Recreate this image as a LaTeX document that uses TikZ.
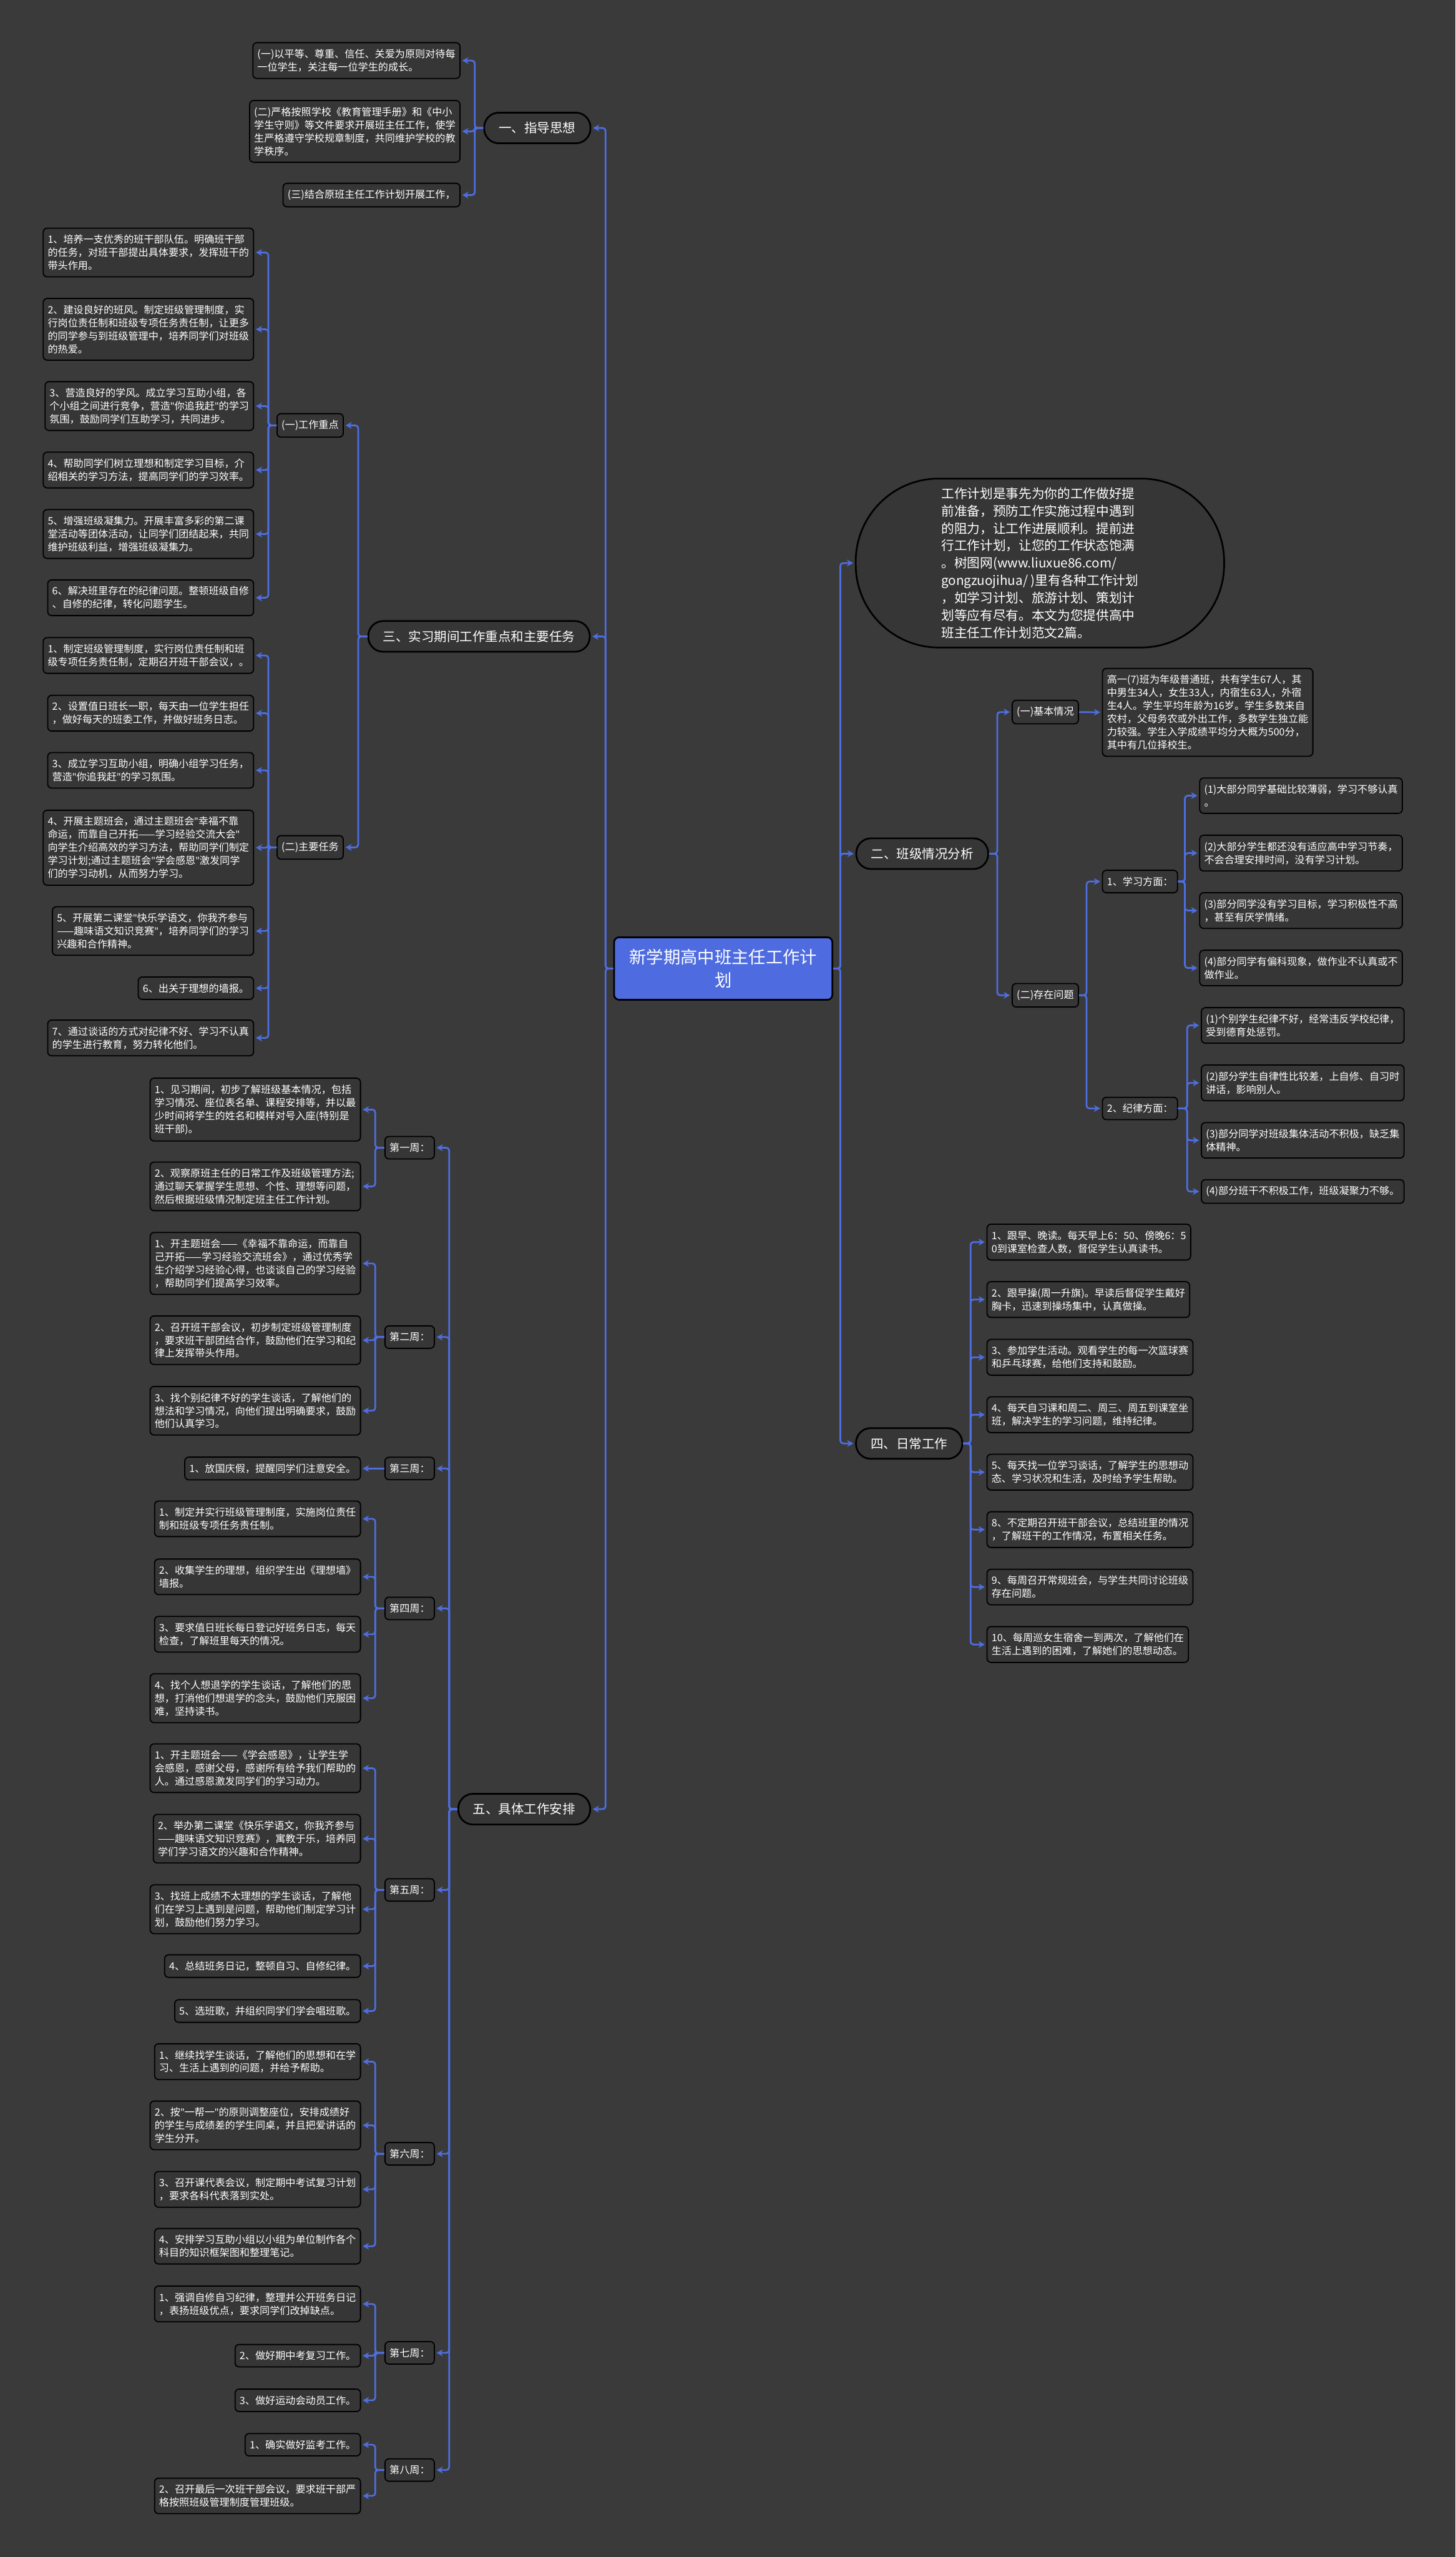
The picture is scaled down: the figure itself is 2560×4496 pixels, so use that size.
\documentclass[tikz,border=0pt]{standalone}
\usepackage{fontspec}
\setmainfont{Noto Sans CJK SC}
\newfontfamily\latinf{Noto Sans}
\newcommand{\myq}{{\latinf"}}
\usetikzlibrary{arrows.meta}
\definecolor{bgc}{RGB}{58,58,58}
\definecolor{boxc}{RGB}{54,54,54}
\definecolor{linkc}{RGB}{78,110,224}
\definecolor{rootc}{RGB}{78,108,224}
\newcommand{\leaffont}{\fontsize{17.7}{23}\selectfont}
\newcommand{\secfont}{\fontsize{22.5}{28}\selectfont}
\newcommand{\rootfont}{\fontsize{30}{40}\selectfont}
\newcommand{\introfont}{\fontsize{22.7}{30.6}\selectfont}
\tikzset{
  conn/.style={draw=linkc, line width=3pt, rounded corners=5pt, -{Stealth[length=11pt,width=12pt]}, shorten >=3pt},
  leaf/.style={draw=black, line width=2pt, fill=boxc, rounded corners=7pt, text=white, font=\leaffont, align=left, inner xsep=8pt, inner ysep=11.5pt},
  sec/.style={draw=black, line width=3pt, fill=boxc, rounded corners=26pt, text=white, font=\secfont, minimum height=54pt, inner xsep=26pt},
  rootbox/.style={draw=black, line width=3pt, fill=rootc, rounded corners=9pt, text=white, font=\rootfont, align=center, minimum width=384pt, minimum height=110pt},
  intro/.style={draw=black, line width=3pt, fill=boxc, rounded corners=146pt, text=white, font=\introfont, align=left, minimum width=648pt, minimum height=297pt},
}
\begin{document}
\begin{tikzpicture}[x=1pt,y=-1pt]
\fill[bgc] (0,0) rectangle (2560,4496);
\useasboundingbox (0,0) rectangle (2560,4496);

% root
\node[rootbox] (root) at (1272,1703) {新学期高中班主任工作计\\划};
\coordinate (tl) at (1065,1703);
\coordinate (tr) at (1478,1703);

% ===== section 1
\node[sec] (s1) at (945,225) {一、指导思想};
\coordinate (b1) at (835,225);
\node[leaf,anchor=east] (a1) at (810,106.5) {(一)以平等、尊重、信任、关爱为原则对待每\\一位学生，关注每一位学生的成长。};
\node[leaf,anchor=east] (a2) at (810,231) {(二)严格按照学校《教育管理手册》和《中小\\学生守则》等文件要求开展班主任工作，使学\\生严格遵守学校规章制度，共同维护学校的教\\学秩序。};
\node[leaf,anchor=east] (a3) at (810,343) {(三)结合原班主任工作计划开展工作，};

% ===== section 3
\node[sec] (s3) at (842.5,1119) {三、实习期间工作重点和主要任务};
\coordinate (b3) at (630,1119);
\node[leaf] (m31) at (545.5,748) {(一)工作重点};
\node[leaf] (m32) at (545.5,1490) {(二)主要任务};
\coordinate (b3l) at (472,748);
\node[leaf,anchor=east] (b31) at (447,444) {1、培养一支优秀的班干部队伍。明确班干部\\的任务，对班干部提出具体要求，发挥班干的\\带头作用。};
\node[leaf,anchor=east] (b32) at (447,579) {2、建设良好的班风。制定班级管理制度，实\\行岗位责任制和班级专项任务责任制，让更多\\的同学参与到班级管理中，培养同学们对班级\\的热爱。};
\node[leaf,anchor=east] (b33) at (447,714) {3、营造良好的学风。成立学习互助小组，各\\个小组之间进行竞争，营造\myq 你追我赶\myq 的学习\\氛围，鼓励同学们互助学习，共同进步。};
\node[leaf,anchor=east] (b34) at (447,826.5) {4、帮助同学们树立理想和制定学习目标，介\\绍相关的学习方法，提高同学们的学习效率。};
\node[leaf,anchor=east] (b35) at (447,939) {5、增强班级凝集力。开展丰富多彩的第二课\\堂活动等团体活动，让同学们团结起来，共同\\维护班级利益，增强班级凝集力。};
\node[leaf,anchor=east] (b36) at (447,1051) {6、解决班里存在的纪律问题。整顿班级自修\\、自修的纪律，转化问题学生。};
\node[leaf,anchor=east] (c31) at (447,1152.5) {1、制定班级管理制度，实行岗位责任制和班\\级专项任务责任制，定期召开班干部会议，。};
\node[leaf,anchor=east] (c32) at (447,1254) {2、设置值日班长一职，每天由一位学生担任\\，做好每天的班委工作，并做好班务日志。};
\node[leaf,anchor=east] (c33) at (447,1354.5) {3、成立学习互助小组，明确小组学习任务，\\营造\myq 你追我赶\myq 的学习氛围。};
\node[leaf,anchor=east] (c34) at (447,1490.5) {4、开展主题班会，通过主题班会\myq 幸福不靠\\命运，而靠自己开拓——学习经验交流大会\myq\\向学生介绍高效的学习方法，帮助同学们制定\\学习计划;通过主题班会\myq 学会感恩\myq 激发同学\\们的学习动机，从而努力学习。};
\node[leaf,anchor=east] (c35) at (447,1637) {5、开展第二课堂\myq 快乐学语文，你我齐参与\\——趣味语文知识竞赛\myq ，培养同学们的学习\\兴趣和合作精神。};
\node[leaf,anchor=east] (c36) at (447,1737.5) {6、出关于理想的墙报。};
\node[leaf,anchor=east] (c37) at (447,1825) {7、通过谈话的方式对纪律不好、学习不认真\\的学生进行教育，努力转化他们。};

% ===== intro and section 2
\node[intro] (intro) at (1829,990) {工作计划是事先为你的工作做好提\\前准备，预防工作实施过程中遇到\\的阻力，让工作进展顺利。提前进\\行工作计划，让您的工作状态饱满\\。树图网(www.liuxue86.com/\\gongzuojihua/ )里有各种工作计划\\，如学习计划、旅游计划、策划计\\划等应有尽有。本文为您提供高中\\班主任工作计划范文2篇。};
\node[sec] (s2) at (1622,1501) {二、班级情况分析};
\coordinate (b2) at (1754,1501);
\node[leaf] (k1) at (1838.5,1252) {(一)基本情况};
\node[leaf,anchor=west] (kl) at (1938,1252.5) {高一(7)班为年级普通班，共有学生67人，其\\中男生34人，女生33人，内宿生63人，外宿\\生4人。学生平均年龄为16岁。学生多数来自\\农村，父母务农或外出工作，多数学生独立能\\力较强。学生入学成绩平均分大概为500分，\\其中有几位择校生。};
\node[leaf] (k2) at (1838.5,1750) {(二)存在问题};
\coordinate (bk2) at (1911,1750);
\node[leaf,anchor=west] (p1) at (1938,1550) {1、学习方面：};
\node[leaf,anchor=west] (p2) at (1938,1949) {2、纪律方面：};
\coordinate (bp1) at (2084,1550);
\coordinate (bp2) at (2088,1949);
\node[leaf,anchor=west] (l1) at (2109,1399) {(1)大部分同学基础比较薄弱，学习不够认真\\。};
\node[leaf,anchor=west] (l2) at (2109,1500) {(2)大部分学生都还没有适应高中学习节奏，\\不会合理安排时间，没有学习计划。};
\node[leaf,anchor=west] (l3) at (2109,1601) {(3)部分同学没有学习目标，学习积极性不高\\，甚至有厌学情绪。};
\node[leaf,anchor=west] (l4) at (2109,1702) {(4)部分同学有偏科现象，做作业不认真或不\\做作业。};
\node[leaf,anchor=west] (d1) at (2112,1803) {(1)个别学生纪律不好，经常违反学校纪律，\\受到德育处惩罚。};
\node[leaf,anchor=west] (d2) at (2112,1904) {(2)部分学生自律性比较差，上自修、自习时\\讲话，影响别人。};
\node[leaf,anchor=west] (d3) at (2112,2005) {(3)部分同学对班级集体活动不积极，缺乏集\\体精神。};
\node[leaf,anchor=west] (d4) at (2112,2095) {(4)部分班干不积极工作，班级凝聚力不够。};

% ===== section 4
\node[sec] (s4) at (1599,2538) {四、日常工作};
\coordinate (b4) at (1707,2538);
\node[leaf,anchor=west] (e1) at (1735,2184) {1、跟早、晚读。每天早上6：50、傍晚6：5\\0到课室检查人数，督促学生认真读书。};
\node[leaf,anchor=west] (e2) at (1735,2285) {2、跟早操(周一升旗)。早读后督促学生戴好\\胸卡，迅速到操场集中，认真做操。};
\node[leaf,anchor=west] (e3) at (1735,2386.5) {3、参加学生活动。观看学生的每一次篮球赛\\和乒乓球赛，给他们支持和鼓励。};
\node[leaf,anchor=west] (e4) at (1735,2487.5) {4、每天自习课和周二、周三、周五到课室坐\\班，解决学生的学习问题，维持纪律。};
\node[leaf,anchor=west] (e5) at (1735,2588.5) {5、每天找一位学习谈话，了解学生的思想动\\态、学习状况和生活，及时给予学生帮助。};
\node[leaf,anchor=west] (e6) at (1735,2689.5) {8、不定期召开班干部会议，总结班里的情况\\，了解班干的工作情况，布置相关任务。};
\node[leaf,anchor=west] (e7) at (1735,2790.5) {9、每周召开常规班会，与学生共同讨论班级\\存在问题。};
\node[leaf,anchor=west] (e8) at (1735,2891.5) {10、每周巡女生宿舍一到两次，了解他们在\\生活上遇到的困难，了解她们的思想动态。};

% ===== section 5
\node[sec] (s5) at (922,3181) {五、具体工作安排};
\coordinate (b5) at (790,3181);
\coordinate (bw) at (660,3181);
\node[leaf] (w1) at (720.5,2018) {第一周：};
\node[leaf] (w2) at (720.5,2351) {第二周：};
\node[leaf] (w3) at (720.5,2582) {第三周：};
\node[leaf] (w4) at (720.5,2828) {第四周：};
\node[leaf] (w5) at (720.5,3323) {第五周：};
\node[leaf] (w6) at (720.5,3787) {第六周：};
\node[leaf] (w7) at (720.5,4137) {第七周：};
\node[leaf] (w8) at (720.5,4343) {第八周：};

\node[leaf,anchor=east] (w1a) at (635,1951) {1、见习期间，初步了解班级基本情况，包括\\学习情况、座位表名单、课程安排等，并以最\\少时间将学生的姓名和模样对号入座(特别是\\班干部)。};
\node[leaf,anchor=east] (w1b) at (635,2086) {2、观察原班主任的日常工作及班级管理方法;\\通过聊天掌握学生思想、个性、理想等问题，\\然后根据班级情况制定班主任工作计划。};
\node[leaf,anchor=east] (w2a) at (635,2221.5) {1、开主题班会——《幸福不靠命运，而靠自\\己开拓——学习经验交流班会》，通过优秀学\\生介绍学习经验心得，也谈谈自己的学习经验\\，帮助同学们提高学习效率。};
\node[leaf,anchor=east] (w2b) at (635,2356.5) {2、召开班干部会议，初步制定班级管理制度\\，要求班干部团结合作，鼓励他们在学习和纪\\律上发挥带头作用。};
\node[leaf,anchor=east] (w2c) at (635,2480.5) {3、找个别纪律不好的学生谈话，了解他们的\\想法和学习情况，向他们提出明确要求，鼓励\\他们认真学习。};
\node[leaf,anchor=east] (w3a) at (635,2582) {1、放国庆假，提醒同学们注意安全。};
\node[leaf,anchor=east] (w4a) at (635,2670.5) {1、制定并实行班级管理制度，实施岗位责任\\制和班级专项任务责任制。};
\node[leaf,anchor=east] (w4b) at (635,2772.5) {2、收集学生的理想，组织学生出《理想墙》\\墙报。};
\node[leaf,anchor=east] (w4c) at (635,2873.5) {3、要求值日班长每日登记好班务日志，每天\\检查，了解班里每天的情况。};
\node[leaf,anchor=east] (w4d) at (635,2986) {4、找个人想退学的学生谈话，了解他们的思\\想，打消他们想退学的念头，鼓励他们克服困\\难，坚持读书。};
\node[leaf,anchor=east] (w5a) at (635,3109) {1、开主题班会——《学会感恩》，让学生学\\会感恩，感谢父母，感谢所有给予我们帮助的\\人。通过感恩激发同学们的学习动力。};
\node[leaf,anchor=east] (w5b) at (635,3233) {2、举办第二课堂《快乐学语文，你我齐参与\\——趣味语文知识竞赛》，寓教于乐，培养同\\学们学习语文的兴趣和合作精神。};
\node[leaf,anchor=east] (w5c) at (635,3357) {3、找班上成绩不太理想的学生谈话，了解他\\们在学习上遇到是问题，帮助他们制定学习计\\划，鼓励他们努力学习。};
\node[leaf,anchor=east] (w5d) at (635,3457) {4、总结班务日记，整顿自习、自修纪律。};
\node[leaf,anchor=east] (w5e) at (635,3536) {5、选班歌，并组织同学们学会唱班歌。};
\node[leaf,anchor=east] (w6a) at (635,3625) {1、继续找学生谈话，了解他们的思想和在学\\习、生活上遇到的问题，并给予帮助。};
\node[leaf,anchor=east] (w6b) at (635,3737) {2、按\myq 一帮一\myq 的原则调整座位，安排成绩好\\的学生与成绩差的学生同桌，并且把爱讲话的\\学生分开。};
\node[leaf,anchor=east] (w6c) at (635,3849.5) {3、召开课代表会议，制定期中考试复习计划\\，要求各科代表落到实处。};
\node[leaf,anchor=east] (w6d) at (635,3949.5) {4、安排学习互助小组以小组为单位制作各个\\科目的知识框架图和整理笔记。};
\node[leaf,anchor=east] (w7a) at (635,4051) {1、强调自修自习纪律，整理并公开班务日记\\，表扬班级优点，要求同学们改掉缺点。};
\node[leaf,anchor=east] (w7b) at (635,4142) {2、做好期中考复习工作。};
\node[leaf,anchor=east] (w7c) at (635,4220.5) {3、做好运动会动员工作。};
\node[leaf,anchor=east] (w8a) at (635,4298.5) {1、确实做好监考工作。};
\node[leaf,anchor=east] (w8b) at (635,4388.5) {2、召开最后一次班干部会议，要求班干部严\\格按照班级管理制度管理班级。};

% ===== connectors: trunk
\foreach \s in {s1,s3,s5} \draw[conn] (root.west) -- (tl) |- (\s.east);
\foreach \s in {intro,s2,s4} \draw[conn] (root.east) -- (tr) |- (\s.west);

% section 1
\foreach \c in {a1,a2,a3} \draw[conn] (s1.west) -- (b1) |- (\c.east);
% section 3
\foreach \c in {m31,m32} \draw[conn] (s3.west) -- (b3) |- (\c.east);
\foreach \c in {b31,b32,b33,b34,b35,b36} \draw[conn] (m31.west) -- (m31.west -| b3l) |- (\c.east);
\foreach \c in {c31,c32,c33,c34,c35,c36,c37} \draw[conn] (m32.west) -- (m32.west -| b3l) |- (\c.east);
% section 2
\foreach \c in {k1,k2} \draw[conn] (s2.east) -- (b2) |- (\c.west);
\draw[conn] (k1.east) -- (kl.west);
\foreach \c in {p1,p2} \draw[conn] (k2.east) -- (bk2) |- (\c.west);
\foreach \c in {l1,l2,l3,l4} \draw[conn] (p1.east) -- (bp1) |- (\c.west);
\foreach \c in {d1,d2,d3,d4} \draw[conn] (p2.east) -- (bp2) |- (\c.west);
% section 4
\foreach \c in {e1,e2,e3,e4,e5,e6,e7,e8} \draw[conn] (s4.east) -- (b4) |- (\c.west);
% section 5
\foreach \c in {w1,w2,w3,w4,w5,w6,w7,w8} \draw[conn] (s5.west) -- (b5) |- (\c.east);
\foreach \c in {w1a,w1b} \draw[conn] (w1.west) -- (w1.west -| bw) |- (\c.east);
\foreach \c in {w2a,w2b,w2c} \draw[conn] (w2.west) -- (w2.west -| bw) |- (\c.east);
\draw[conn] (w3.west) -- (w3a.east);
\foreach \c in {w4a,w4b,w4c,w4d} \draw[conn] (w4.west) -- (w4.west -| bw) |- (\c.east);
\foreach \c in {w5a,w5b,w5c,w5d,w5e} \draw[conn] (w5.west) -- (w5.west -| bw) |- (\c.east);
\foreach \c in {w6a,w6b,w6c,w6d} \draw[conn] (w6.west) -- (w6.west -| bw) |- (\c.east);
\foreach \c in {w7a,w7b,w7c} \draw[conn] (w7.west) -- (w7.west -| bw) |- (\c.east);
\foreach \c in {w8a,w8b} \draw[conn] (w8.west) -- (w8.west -| bw) |- (\c.east);
\end{tikzpicture}
\end{document}
